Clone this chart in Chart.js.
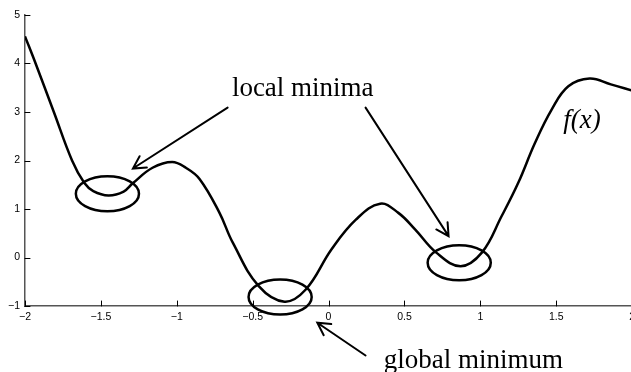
<!DOCTYPE html>
<html>
<head>
<meta charset="utf-8">
<script src="https://cdn.jsdelivr.net/npm/chart.js@4"></script>
<style>
  html, body { margin: 0; padding: 0; background: #fff; overflow: hidden; }
  #wrap { width: 640px; height: 372px; }
</style>
</head>
<body>
<div id="wrap"><canvas id="chart" width="640" height="372"></canvas></div>
<script>
// values
const xValues = [-2.00, -1.93, -1.81, -1.69, -1.61, -1.55, -1.45, -1.35, -1.29, -1.16, -1.03, -0.94, -0.85, -0.72, -0.63, -0.46, -0.29, -0.15, 0.02, 0.18, 0.34, 0.46, 0.57, 0.71, 0.87, 1.01, 1.14, 1.25, 1.36, 1.47, 1.58, 1.72, 1.86, 2.00];
const fValues = [4.56, 4.00, 3.00, 2.00, 1.54, 1.37, 1.28, 1.36, 1.53, 1.85, 1.97, 1.85, 1.62, 0.93, 0.30, -0.59, -0.91, -0.66, 0.17, 0.78, 1.11, 0.92, 0.58, 0.10, -0.18, 0.10, 0.85, 1.54, 2.36, 3.05, 3.53, 3.69, 3.57, 3.44];
const xTicks = [-2, -1.5, -1, -0.5, 0, 0.5, 1, 1.5, 2];
const yTicks = [-1, 0, 1, 2, 3, 4, 5];

// annotations, in data units
const ellipseCenters = [[-1.457, 1.315], [-0.319, -0.814], [0.861, -0.107]];
const ellipseRadius = [0.208, 0.36];
const arrows = [
    { from: [-0.665, 3.09], to: [-1.289, 1.835] },
    { from: [0.244, 3.09], to: [0.791, 0.44] },
    { from: [0.244, -2.02], to: [-0.074, -1.346] }
];
const labels = [
    { text: 'local minima', at: [-0.17, 3.33], font: '27px "Liberation Serif"' },
    { text: 'global minimum', at: [0.955, -2.27], font: '27px "Liberation Serif"' },
    { text: 'f(x)', at: [1.67, 2.67], font: 'italic 27px "Liberation Serif"' }
];

const points = xValues.map((x, i) => ({ x: x, y: fValues[i] }));
const fmt = v => String(v).replace('-', '\u2212');

const annotate = {
    id: 'annotate',
    afterDraw(chart) {
        const ctx = chart.ctx;
        const xs = chart.scales.x, ys = chart.scales.y;
        const area = chart.chartArea;
        const px = v => xs.getPixelForValue(v);
        const py = v => ys.getPixelForValue(v);
        ctx.save();
        ctx.strokeStyle = '#000';
        ctx.lineCap = 'round';

        // inward tick marks
        ctx.lineWidth = 1;
        xTicks.forEach(t => {
            const x = Math.round(px(t)) + 0.5;
            ctx.beginPath();
            ctx.moveTo(x, area.bottom);
            ctx.lineTo(x, area.bottom - 5);
            ctx.stroke();
        });
        yTicks.forEach(t => {
            const y = Math.round(py(t)) + 0.5;
            ctx.beginPath();
            ctx.moveTo(area.left, y);
            ctx.lineTo(area.left + 5, y);
            ctx.stroke();
        });

        // ellipses around the minima
        ctx.lineWidth = 2.5;
        ellipseCenters.forEach(c => {
            const cx = px(c[0]), cy = py(c[1]);
            const rx = px(c[0] + ellipseRadius[0]) - cx;
            const ry = cy - py(c[1] + ellipseRadius[1]);
            ctx.beginPath();
            ctx.ellipse(cx, cy, rx, ry, 0, 0, Math.PI * 2);
            ctx.stroke();
        });

        // arrows
        ctx.lineWidth = 2;
        arrows.forEach(a => {
            const x0 = px(a.from[0]), y0 = py(a.from[1]);
            const x1 = px(a.to[0]), y1 = py(a.to[1]);
            const ang = Math.atan2(y1 - y0, x1 - x0);
            ctx.beginPath();
            ctx.moveTo(x0, y0);
            ctx.lineTo(x1, y1);
            const len = 14, spread = 0.5;
            ctx.moveTo(x1 - len * Math.cos(ang - spread), y1 - len * Math.sin(ang - spread));
            ctx.lineTo(x1, y1);
            ctx.lineTo(x1 - len * Math.cos(ang + spread), y1 - len * Math.sin(ang + spread));
            ctx.stroke();
        });

        // text
        ctx.fillStyle = '#000';
        ctx.textAlign = 'center';
        ctx.textBaseline = 'alphabetic';
        labels.forEach(l => {
            ctx.font = l.font;
            ctx.fillText(l.text, px(l.at[0]), py(l.at[1]));
        });
        ctx.restore();
    }
};

new Chart(document.getElementById('chart'), {
    type: 'line',
    data: {
        datasets: [{
            label: 'f(x)',
            data: points,
            borderColor: '#000',
            borderWidth: 2.5,
            pointRadius: 0,
            fill: false,
            tension: 0.4
        }]
    },
    options: {
        responsive: false,
        animation: false,
        events: [],
        layout: { padding: { top: 15, right: 6, left: 0, bottom: 0 } },
        plugins: { legend: { display: false }, tooltip: { enabled: false } },
        scales: {
            x: {
                type: 'linear',
                min: -2, max: 2,
                afterBuildTicks: s => { s.ticks = xTicks.map(v => ({ value: v })); },
                afterFit: s => { s.height = 66; },
                grid: { display: false, drawTicks: false },
                border: { display: true, color: '#555', width: 1.5 },
                ticks: {
                    callback: v => fmt(v),
                    color: '#000',
                    padding: 5,
                    maxRotation: 0,
                    autoSkip: false,
                    font: { family: 'Liberation Sans', size: 10.5 }
                }
            },
            y: {
                min: -1, max: 5,
                afterBuildTicks: s => { s.ticks = yTicks.map(v => ({ value: v })); },
                afterFit: s => { s.width = 25; },
                grid: { display: false, drawTicks: false },
                border: { display: true, color: '#555', width: 1.5 },
                ticks: {
                    callback: v => fmt(v),
                    color: '#000',
                    padding: 5,
                    autoSkip: false,
                    font: { family: 'Liberation Sans', size: 10.5 }
                }
            }
        }
    },
    plugins: [annotate]
});
</script>
</body>
</html>
